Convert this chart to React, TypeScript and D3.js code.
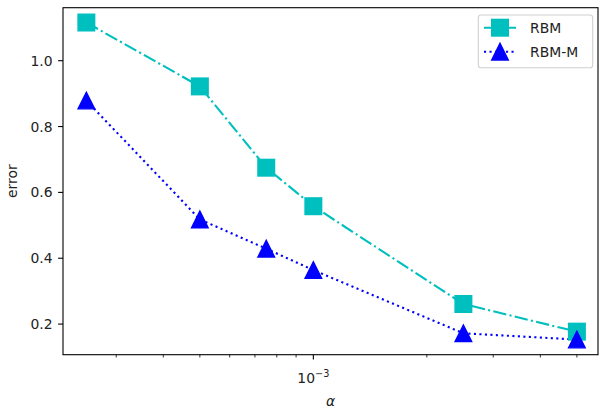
import React from 'react';
import * as d3 from 'd3';

// learning rates (x) and errors
const alphas = [2.5e-4, 5e-4, 7.5e-4, 1e-3, 2.5e-3, 5e-3];
const rbm = [1.116, 0.922, 0.675, 0.558, 0.261, 0.177];
const rbmM = [0.879, 0.518, 0.429, 0.364, 0.172, 0.153];
const yTicks = [0.2, 0.4, 0.6, 0.8, 1.0];
const seriesNames = ['RBM', 'RBM-M'];

const W = 608;
const H = 414;
const left = 63;
const right = 598;
const top = 7.7;
const bottom = 354.7;
const font = '"DejaVu Sans", sans-serif';
const fs = 13.9;

const cyan = '#00bfbf';
const blue = '#0000ff';

const Square: React.FC<{ cx: number; cy: number }> = ({ cx, cy }) => (
  <rect x={cx - 8.3} y={cy - 8.3} width={16.6} height={16.6} fill={cyan} stroke={cyan} strokeWidth={1.4} />
);

const Triangle: React.FC<{ cx: number; cy: number }> = ({ cx, cy }) => (
  <path
    d={`M${cx},${cy - 8.3}L${cx - 8.3},${cy + 8.3}L${cx + 8.3},${cy + 8.3}Z`}
    fill={blue}
    stroke={blue}
    strokeWidth={1.4}
    strokeLinejoin="miter"
  />
);

const App: React.FC = () => {
  const x = d3.scaleLog().domain([Math.pow(10, -3.664), Math.pow(10, -2.245)]).range([left, right]);
  const y = d3.scaleLinear().domain([0.107, 1.161]).range([bottom, top]);

  const line = d3.line<number>()
    .x((_, i) => x(alphas[i]))
    .y(d => y(d));

  const [d0, d1] = x.domain();
  const minor = x.ticks().filter(t => t >= d0 && t <= d1 && Math.abs(Math.log10(t) - Math.round(Math.log10(t))) > 1e-6);
  const major = [1e-3];

  return (
    <div style={{ position: 'absolute', left: 0, top: 0 }}>
      <svg width={W} height={H} style={{ display: 'block', background: '#fff' }} fontFamily={font}>
        {/* lines */}
        <path d={line(rbm) || ''} fill="none" stroke={cyan} strokeWidth={2.1} strokeDasharray="13.3,3.3,2.1,3.3" />
        <path d={line(rbmM) || ''} fill="none" stroke={blue} strokeWidth={2.1} strokeDasharray="2.1,3.4" />
        {rbm.map((v, i) => <Square key={'s' + i} cx={x(alphas[i])} cy={y(v)} />)}
        {rbmM.map((v, i) => <Triangle key={'t' + i} cx={x(alphas[i])} cy={y(v)} />)}

        {/* spines */}
        <rect x={left} y={top} width={right - left} height={bottom - top} fill="none" stroke="#000" strokeWidth={1.1} />

        {/* y ticks */}
        {yTicks.map(t => (
          <g key={'y' + t}>
            <line x1={left - 4.9} x2={left} y1={y(t)} y2={y(t)} stroke="#000" strokeWidth={1.1} />
            <text x={left - 10.5} y={y(t)} dy="0.36em" textAnchor="end" fontSize={fs} fill="#222">
              {t.toFixed(1)}
            </text>
          </g>
        ))}

        {/* x ticks */}
        {minor.map(t => (
          <line key={'m' + t} x1={x(t)} x2={x(t)} y1={bottom} y2={bottom + 2.8} stroke="#000" strokeWidth={0.8} />
        ))}
        {major.map(t => (
          <g key={'M' + t}>
            <line x1={x(t)} x2={x(t)} y1={bottom} y2={bottom + 4.9} stroke="#000" strokeWidth={1.1} />
            <text x={x(t)} y={383} textAnchor="middle" fontSize={fs} fill="#222">
              10<tspan fontSize={9.7} dy={-6}>−3</tspan>
            </text>
          </g>
        ))}

        {/* axis labels */}
        <text x={(left + right) / 2} y={406} textAnchor="middle" fontSize={fs} fontStyle="italic" fill="#222">α</text>
        <text transform={`translate(16.5,${(top + bottom) / 2}) rotate(-90)`} textAnchor="middle" fontSize={fs} fill="#222">error</text>

        {/* legend */}
        <rect x={478.3} y={15} width={114.4} height={52.7} rx={2.8} fill="#fff" fillOpacity={0.8} stroke="#d0d0d0" strokeWidth={1.1} />
        <line x1={484} x2={516} y1={27.7} y2={27.7} stroke={cyan} strokeWidth={2.1} strokeDasharray="13.3,3.3,2.1,3.3" />
        <Square cx={500} cy={27.7} />
        <line x1={484} x2={516} y1={51.7} y2={51.7} stroke={blue} strokeWidth={2.1} strokeDasharray="2.1,3.4" />
        <Triangle cx={500} cy={51.7} />
        {seriesNames.map((n, i) => (
          <text key={n} x={530} y={27.7 + i * 24} dy="0.36em" fontSize={fs} fill="#222">{n}</text>
        ))}
      </svg>
    </div>
  );
};

export default App;
